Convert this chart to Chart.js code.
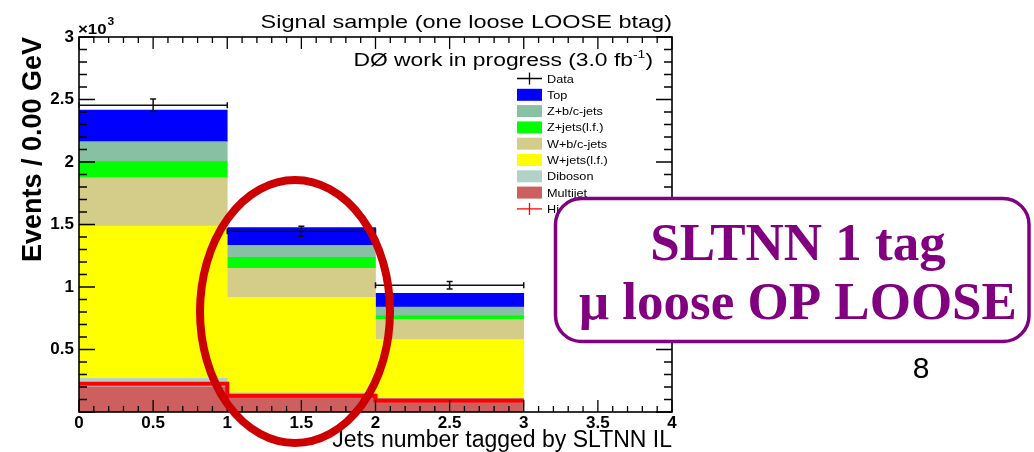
<!DOCTYPE html>
<html>
<head>
<meta charset="utf-8">
<script src="https://cdn.jsdelivr.net/npm/chart.js@4.4.0/dist/chart.umd.min.js"></script>
<style>
  html, body { margin: 0; padding: 0; background: #fff; }
  #wrap { width: 1034px; height: 452px; position: relative; }
</style>
</head>
<body>
<div id="wrap"><canvas id="myChart"></canvas></div>
<script>
// bins of "Jets number tagged by SLTNN IL"
const binLow = [0, 1, 2];
const binHigh = [1, 2, 3];
const binCenter = [0.5, 1.5, 2.5];

// stacked backgrounds (events per bin), bottom to top
const multijet = [202, 140, 100];
const diboson = [67, 14, 9];
const wLight = [1218, 764, 471];
const wHeavy = [386, 231, 162];
const zLight = [130, 88, 27];
const zHeavy = [160, 96, 71];
const topQuark = [253, 143, 110];

const dataEvents = [2455, 1447, 1014];
const dataErr = [50, 40, 30];
const higgsSignal = [226, 131, 93];

const bkgLabels = ["Multijet", "Diboson", "W+jets(l.f.)", "W+b/c-jets", "Z+jets(l.f.)", "Z+b/c-jets", "Top"];
const bkgColors = ["#cd5f5f", "#b2d2c8", "#ffff00", "#d4cd8a", "#00ff00", "#87c0a3", "#0000ff"];
const bkgValues = [multijet, diboson, wLight, wHeavy, zLight, zHeavy, topQuark];

const xTickLabels = ["0", "0.5", "1", "1.5", "2", "2.5", "3", "3.5", "4"];
const yTickLabels = ["", "0.5", "1", "1.5", "2", "2.5", "3"];

const SANS = "'Liberation Sans', Arial, Helvetica, sans-serif";
const STRETCH = 1.27; // the slide image is squeezed wider than it is tall

Chart.defaults.font.family = SANS;
Chart.defaults.color = "#000";

function stretchText(ctx, str, x, y, font, align, sx) {
  ctx.save();
  ctx.font = font;
  ctx.textAlign = "left";
  ctx.textBaseline = "alphabetic";
  const w = ctx.measureText(str).width * sx;
  let x0 = x;
  if (align === "right") x0 = x - w;
  if (align === "center") x0 = x - w / 2;
  ctx.translate(x0, y);
  ctx.scale(sx, 1);
  ctx.fillText(str, 0, 0);
  ctx.restore();
  return w;
}

// ROOT style ticks on all four sides plus frame
const rootFrame = {
  id: "rootFrame",
  afterDatasetsDraw(chart) {
    const { ctx, chartArea: a, scales: { x, y } } = chart;
    ctx.save();
    ctx.strokeStyle = "#000";
    ctx.lineWidth = 1.3;
    ctx.beginPath();
    for (let i = 0; i <= 40; i++) {
      const px = x.getPixelForValue(i / 10);
      const len = i % 5 === 0 ? 12 : 6;
      ctx.moveTo(px, a.bottom);
      ctx.lineTo(px, a.bottom - len);
      ctx.moveTo(px, a.top);
      ctx.lineTo(px, a.top + len);
    }
    for (let i = 0; i <= 30; i++) {
      const py = y.getPixelForValue(i * 100);
      const len = i % 5 === 0 ? 16 : 8;
      ctx.moveTo(a.left, py);
      ctx.lineTo(a.left + len, py);
      ctx.moveTo(a.right, py);
      ctx.lineTo(a.right - len, py);
    }
    ctx.stroke();
    ctx.lineWidth = 1.6;
    ctx.strokeRect(a.left, a.top, a.right - a.left, a.bottom - a.top);

    // data points with bin width and error bars
    const meta = chart.getDatasetMeta(chart.data.datasets.length - 1);
    ctx.lineWidth = 1.5;
    ctx.strokeStyle = "#111";
    ctx.beginPath();
    meta.data.forEach((pt, i) => {
      const xl = x.getPixelForValue(binLow[i]);
      const xh = x.getPixelForValue(binHigh[i]);
      const yu = y.getPixelForValue(dataEvents[i] + dataErr[i]);
      const yd = y.getPixelForValue(dataEvents[i] - dataErr[i]);
      ctx.moveTo(xl, pt.y); ctx.lineTo(xh, pt.y);
      ctx.moveTo(xl, pt.y - 3); ctx.lineTo(xl, pt.y + 3);
      ctx.moveTo(xh, pt.y - 3); ctx.lineTo(xh, pt.y + 3);
      ctx.moveTo(pt.x, yu); ctx.lineTo(pt.x, yd);
      ctx.moveTo(pt.x - 3, yu); ctx.lineTo(pt.x + 3, yu);
      ctx.moveTo(pt.x - 3, yd); ctx.lineTo(pt.x + 3, yd);
    });
    ctx.stroke();
    ctx.restore();
  }
};

const rootLegend = {
  id: "rootLegend",
  afterDraw(chart) {
    const ctx = chart.ctx;
    const sets = chart.data.datasets;
    const items = [{ label: "Data", cross: "#000" }];
    sets.filter(d => d.type === "bar").reverse()
      .forEach(d => items.push({ label: d.label, fill: d.backgroundColor }));
    items.push({ label: sets[sets.length - 2].label, cross: sets[sets.length - 2].borderColor });
    ctx.save();
    items.forEach((it, i) => {
      const cy = 78.5 + i * 16.3;
      if (it.fill) {
        ctx.fillStyle = it.fill;
        ctx.fillRect(517, cy - 6, 25, 12);
      } else {
        ctx.strokeStyle = it.cross;
        ctx.lineWidth = 1.3;
        ctx.beginPath();
        ctx.moveTo(517, cy); ctx.lineTo(542, cy);
        ctx.moveTo(529.5, cy - 6); ctx.lineTo(529.5, cy + 6);
        ctx.stroke();
      }
      ctx.fillStyle = "#000";
      stretchText(ctx, it.label, 547, cy + 4, "11px " + SANS, "left", 1.15);
    });
    ctx.restore();
  }
};

const slideOverlay = {
  id: "slideOverlay",
  afterDraw(chart) {
    const ctx = chart.ctx;
    ctx.save();
    ctx.fillStyle = "#000";
    // histogram title and labels
    stretchText(ctx, "Signal sample (one loose LOOSE btag)", 672, 28, "18.5px " + SANS, "right", STRETCH);
    let xr = 653;
    xr -= stretchText(ctx, ")", xr, 66, "18px " + SANS, "right", STRETCH);
    xr -= stretchText(ctx, "-1", xr, 58, "11px " + SANS, "right", STRETCH);
    stretchText(ctx, "DØ work in progress (3.0 fb", xr, 66, "18px " + SANS, "right", STRETCH);
    const w10 = stretchText(ctx, "×10", 78, 34, "bold 14px " + SANS, "left", 1.2);
    stretchText(ctx, "3", 78 + w10 + 1, 25, "bold 10px " + SANS, "left", 1.2);

    // red ellipse drawn on the slide
    ctx.strokeStyle = "#cc0000";
    ctx.lineWidth = 8;
    ctx.beginPath();
    ctx.ellipse(295, 311.5, 95, 131.5, 0, 0, Math.PI * 2);
    ctx.stroke();

    // purple label box
    ctx.beginPath();
    ctx.roundRect(555.5, 198.5, 473.5, 143, 26);
    ctx.fillStyle = "#fff";
    ctx.fill();
    ctx.strokeStyle = "#800080";
    ctx.lineWidth = 3.5;
    ctx.stroke();
    ctx.fillStyle = "#800080";
    ctx.font = "bold 53px 'Liberation Serif', 'Times New Roman', serif";
    ctx.textAlign = "center";
    ctx.textBaseline = "alphabetic";
    ctx.fillText("SLTNN 1 tag", 798, 260);
    ctx.fillText("μ loose OP LOOSE", 798, 319);

    ctx.fillStyle = "#000";
    ctx.font = "30px " + SANS;
    ctx.fillText("8", 921, 378);
    ctx.restore();
  }
};

const datasets = bkgLabels.map((label, k) => ({
  type: "bar",
  label: label,
  data: binCenter.map((c, i) => ({ x: c, y: bkgValues[k][i] })),
  backgroundColor: bkgColors[k],
  borderWidth: 0,
  stack: "bkg",
  barThickness: "flex",
  barPercentage: 1,
  categoryPercentage: 1
}));

const higgsPoints = binLow.map((lo, i) => ({ x: lo, y: higgsSignal[i] }));
higgsPoints.push({ x: binHigh[binHigh.length - 1], y: higgsSignal[higgsSignal.length - 1] });

datasets.push({
  type: "line",
  label: "Higgs",
  data: higgsPoints,
  borderColor: "#ff0000",
  borderWidth: 4,
  stepped: true,
  pointRadius: 0,
  fill: false,
  stack: "higgs",
  order: -1
});

datasets.push({
  type: "line",
  label: "Data",
  data: binCenter.map((c, i) => ({ x: c, y: dataEvents[i] })),
  showLine: false,
  pointRadius: 0,
  stack: "data",
  order: -2
});

new Chart(document.getElementById("myChart"), {
  type: "bar",
  data: { datasets },
  plugins: [rootFrame, rootLegend, slideOverlay],
  options: {
    responsive: true,
    maintainAspectRatio: false,
    animation: false,
    layout: { padding: { left: 0, top: 37, right: 362, bottom: 0 } },
    plugins: { legend: { display: false }, tooltip: { enabled: false } },
    scales: {
      x: {
        type: "linear",
        min: 0,
        max: 4,
        offset: false,
        stacked: true,
        grid: { display: false, drawTicks: false },
        border: { display: false },
        afterFit: (s) => { s.height = 40; },
        ticks: {
          stepSize: 0.5,
          autoSkip: false,
          maxRotation: 0,
          padding: 3,
          font: { size: 17, weight: "bold", lineHeight: 1 },
          callback: (v, i) => xTickLabels[i]
        },
        title: {
          display: true,
          text: "Jets number tagged by SLTNN IL",
          align: "end",
          color: "#000",
          padding: { top: 0, bottom: 0 },
          font: { size: 23, lineHeight: 1 }
        }
      },
      y: {
        min: 0,
        max: 3000,
        stacked: true,
        grid: { display: false, drawTicks: false },
        border: { display: false },
        afterFit: (s) => { s.width = 79; },
        ticks: {
          stepSize: 500,
          padding: 5,
          font: { size: 17, weight: "bold" },
          callback: (v, i) => yTickLabels[i]
        },
        title: {
          display: true,
          text: "Events / 0.00 GeV",
          align: "end",
          color: "#000",
          padding: { top: 20, bottom: 0 },
          font: { size: 27, weight: "bold", lineHeight: 1 }
        }
      }
    }
  }
});
</script>
</body>
</html>
